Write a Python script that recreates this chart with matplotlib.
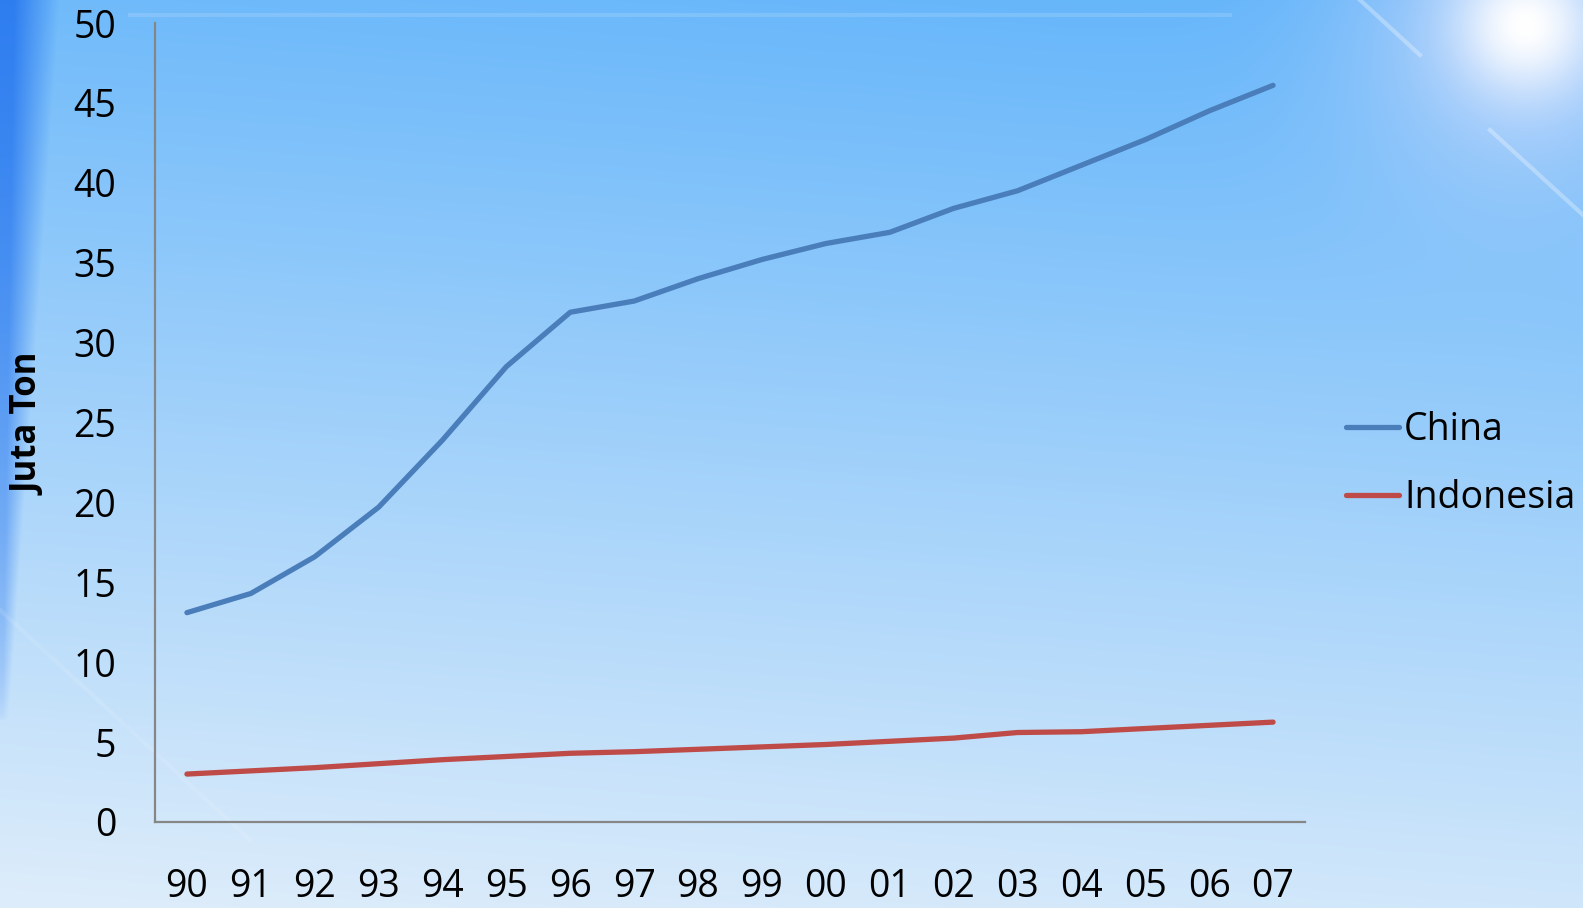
import numpy as np
import matplotlib
matplotlib.use("Agg")
import matplotlib.pyplot as plt

years = ["90", "91", "92", "93", "94", "95", "96", "97", "98", "99",
         "00", "01", "02", "03", "04", "05", "06", "07"]
china = [13.1, 14.3, 16.6, 19.7, 23.9, 28.5, 31.9, 32.6, 34.0, 35.2,
         36.2, 36.9, 38.4, 39.5, 41.1, 42.7, 44.5, 46.1]
indonesia = [3.0, 3.2, 3.4, 3.65, 3.9, 4.1, 4.3, 4.4, 4.55, 4.7,
             4.85, 5.05, 5.25, 5.6, 5.65, 5.85, 6.05, 6.25]
y_ticks = [0, 5, 10, 15, 20, 25, 30, 35, 40, 45, 50]

plt.rcParams["font.family"] = ["Open Sans", "DejaVu Sans"]

W, H = 1583, 908
fig = plt.figure(figsize=(W / 100, H / 100), dpi=100)

# slide background: blue sky gradient, left streak, sun glare top right
yy, xx = np.mgrid[0:H, 0:W].astype(float)
top = np.array([98, 180, 250]) / 255
bot = np.array([220, 236, 251]) / 255
t = np.clip(yy / H * 0.9 + (1 - xx / W) * 0.12, 0, 1)[..., None]
img = top * (1 - t) + bot * t

streak_w = np.clip(46 - yy * 0.055, 0, None)
streak = np.clip(1.3 - xx / np.maximum(streak_w, 1), 0, 1) * (streak_w > 1)
streak *= np.clip(1 - yy / 720, 0, 1) ** 0.5
img = img * (1 - streak[..., None] * 0.85) + np.array([35, 115, 238]) / 255 * streak[..., None] * 0.85

r = np.hypot(xx - 1525, yy - 25)
halo = np.exp(-(r / 170) ** 2)[..., None] * 0.6
core = np.exp(-(r / 65) ** 2)[..., None]
img = img * (1 - halo) + np.array([228, 226, 252]) / 255 * halo
img = img * (1 - core) + core

bg = fig.add_axes([0, 0, 1, 1], zorder=-10)
bg.imshow(np.clip(img, 0, 1), extent=(0, W, H, 0), aspect="auto")
for (x0, y0), (x1, y1), a in [((1360, 0), (1420, 55), 0.3),
                               ((1490, 130), (1583, 215), 0.3),
                               ((130, 15), (1230, 15), 0.14),
                               ((0, 610), (250, 840), 0.1)]:
    bg.plot([x0, x1], [y0, y1], color="white", lw=3, alpha=a)
bg.set_xlim(0, W)
bg.set_ylim(H, 0)
bg.axis("off")

ax = fig.add_axes([155 / W, 1 - 822 / H, 1150 / W, 799 / H])
ax.set_facecolor("none")
x = np.arange(len(years))
ax.plot(x, china, color="#4a7ebb", lw=3.8, solid_capstyle="round",
        solid_joinstyle="round", label="China")
ax.plot(x, indonesia, color="#be4b48", lw=3.8, solid_capstyle="round",
        solid_joinstyle="round", label="Indonesia")

ax.set_xlim(-0.5, len(years) - 0.5)
ax.set_ylim(0, 50)
ax.set_yticks(y_ticks)
ax.set_xticks(x)
ax.set_xticklabels(years)
ax.tick_params(axis="y", length=0, pad=28, labelsize=27)
ax.tick_params(axis="x", length=0, pad=33, labelsize=27)
for side in ("top", "right"):
    ax.spines[side].set_visible(False)
for side in ("left", "bottom"):
    ax.spines[side].set_color("#868686")
    ax.spines[side].set_linewidth(1.6)

fig.text(30 / W, 1 - 424 / H, "Juta Ton", rotation=90, fontsize=25,
         fontweight="bold", ha="center", va="center")

ax.legend(loc="center left", bbox_to_anchor=(1346 / W, 1 - 464 / H),
          bbox_transform=fig.transFigure, frameon=False, fontsize=27,
          borderpad=0, borderaxespad=0, handlelength=1.4, handletextpad=0.15,
          labelspacing=0.78)

fig.savefig("out.png", dpi=100)
